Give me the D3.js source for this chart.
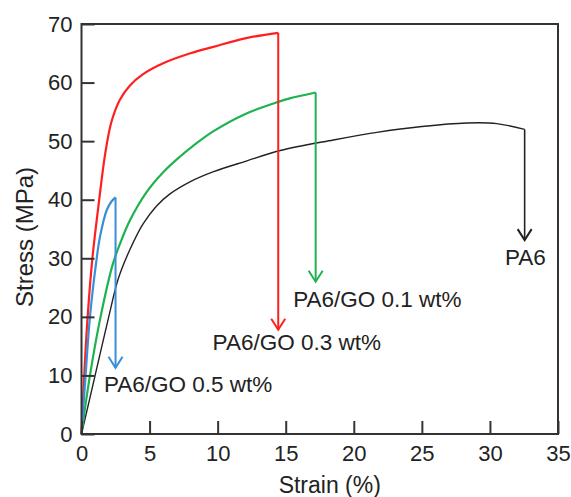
<!DOCTYPE html>
<html>
<head>
<meta charset="utf-8">
<script src="https://cdn.jsdelivr.net/npm/d3@7"></script>
<style>
  html, body { margin: 0; padding: 0; background: #fff; }
  svg { display: block; font-family: "Liberation Sans", Arial, Helvetica, sans-serif; }
</style>
</head>
<body>
<svg id="chart" width="571" height="497"></svg>
<script>
// ---------- data ----------
const seriesNames = ["PA6", "PA6/GO 0.1 wt%", "PA6/GO 0.3 wt%", "PA6/GO 0.5 wt%"];

const strainPA6  = [0, 1.0, 2.0, 2.7, 3.5, 4.5, 5.5, 6.5, 8.0, 9.7, 12.1, 14.6, 18.5, 21.7, 25, 28.3, 30.5, 32.55];
const stressPA6  = [0, 10, 20, 26.5, 31.2, 35.8, 38.9, 41.0, 43.1, 44.8, 46.6, 48.4, 50.2, 51.5, 52.5, 53.1, 53.0, 52.0];

const strainGO01 = [0, 0.62, 1.4, 2.3, 3.0, 3.56, 4.78, 6.0, 7.2, 8.2, 9.7, 12, 14.45, 15.3, 17.2];
const stressGO01 = [0, 10, 20, 29, 33.5, 36.5, 41.3, 44.7, 47.3, 49.2, 51.7, 54.6, 56.7, 57.3, 58.3];

const strainGO03 = [0, 0.2, 0.45, 0.8, 1.3, 1.75, 2.2, 2.8, 3.56, 4.5, 6.0, 8.0, 9.68, 12.1, 14.45];
const stressGO03 = [0, 10, 20, 30, 40, 48, 53.3, 57, 59.5, 61.4, 63.3, 65.0, 66.1, 67.6, 68.5];

const strainGO05 = [0, 0.3, 0.62, 1.1, 1.36, 1.85, 2.2, 2.5];
const stressGO05 = [0, 10, 20, 29.7, 33.7, 38.2, 39.7, 40.4];

// failure arrows: stress value where each arrow ends
const arrowEndStress = [33.1, 26.0, 17.8, 11.3];

// label anchors (data units: strain, stress)
const labelStrain = [31.1, 15.55, 9.63, 1.65];
const labelStress = [28.85, 21.7, 14.3, 7.2];

const xTicks = [0, 5, 10, 15, 20, 25, 30, 35];
const yTicks = [0, 10, 20, 30, 40, 50, 60, 70];
const xTitle = "Strain (%)";
const yTitle = "Stress (MPa)";

const colors = ["#222222", "#1db34f", "#ff1f1f", "#3a8ed8"];
const widths = [1.4, 2.2, 2.2, 2.2];

// ---------- layout ----------
const W = 571, H = 497;
const margin = { left: 81.5, right: 13, top: 24, bottom: 63 };
const svg = d3.select("#chart");

const x = d3.scaleLinear().domain([0, 35]).range([margin.left, W - margin.right]);
const y = d3.scaleLinear().domain([0, 70]).range([H - margin.bottom, margin.top]);

const series = [
  { s: strainPA6, t: stressPA6 },
  { s: strainGO01, t: stressGO01 },
  { s: strainGO03, t: stressGO03 },
  { s: strainGO05, t: stressGO05 }
];

const line = d3.line()
  .x(d => x(d[0])).y(d => y(d[1]))
  .curve(d3.curveCatmullRom.alpha(0.5));

series.forEach((ser, i) => {
  const pts = ser.s.map((v, k) => [v, ser.t[k]]);
  svg.append("path")
    .attr("d", line(pts))
    .attr("fill", "none")
    .attr("stroke", colors[i])
    .attr("stroke-width", widths[i])
    .attr("stroke-linejoin", "round");
  const last = pts[pts.length - 1];
  const tx = x(last[0]), ty = y(arrowEndStress[i]);
  const sw = i === 0 ? 1.6 : 2;
  // vertical failure arrow
  svg.append("line")
    .attr("x1", tx).attr("y1", y(last[1]))
    .attr("x2", tx).attr("y2", ty)
    .attr("stroke", colors[i])
    .attr("stroke-width", sw);
  svg.append("path")
    .attr("d", `M${tx - 7},${ty - 11}L${tx},${ty}L${tx + 7},${ty - 11}`)
    .attr("fill", "none")
    .attr("stroke", colors[i])
    .attr("stroke-width", 2)
    .attr("stroke-linejoin", "miter");
});

// frame
const frame = svg.append("g").attr("fill", "none").attr("stroke", "#333").attr("stroke-width", 2);
frame.append("rect")
  .attr("x", x(0)).attr("y", y(70))
  .attr("width", x(35) - x(0)).attr("height", y(0) - y(70));

// axes with inward ticks
const xAxis = d3.axisBottom(x).tickValues(xTicks).tickFormat(d3.format("d"))
  .tickSize(-13).tickPadding(11);
const yAxis = d3.axisLeft(y).tickValues(yTicks).tickFormat(d3.format("d"))
  .tickSize(-13).tickPadding(9);

const gx = svg.append("g").attr("transform", `translate(0,${y(0)})`).call(xAxis);
const gy = svg.append("g").attr("transform", `translate(${x(0)},0)`).call(yAxis);
[gx, gy].forEach(g => {
  g.select(".domain").remove();
  g.selectAll(".tick line").attr("stroke", "#333").attr("stroke-width", 2);
  g.selectAll(".tick text")
    .attr("fill", "#222")
    .style("font-size", "22px")
    .style("font-family", "'Liberation Sans', Arial, sans-serif");
});

// axis titles
svg.append("text")
  .attr("x", (x(0) + x(35)) / 2 + 10).attr("y", 493)
  .attr("text-anchor", "middle")
  .attr("fill", "#222")
  .style("font-size", "23px")
  .text(xTitle);

svg.append("text")
  .attr("transform", `translate(33,${(y(0) + y(70)) / 2 + 8}) rotate(-90)`)
  .attr("text-anchor", "middle")
  .attr("fill", "#222")
  .style("font-size", "24px")
  .text(yTitle);

// series labels
seriesNames.forEach((name, i) => {
  svg.append("text")
    .attr("x", x(labelStrain[i])).attr("y", y(labelStress[i]))
    .attr("fill", "#222")
    .style("font-size", "22.5px")
    .text(name);
});
</script>
</body>
</html>
